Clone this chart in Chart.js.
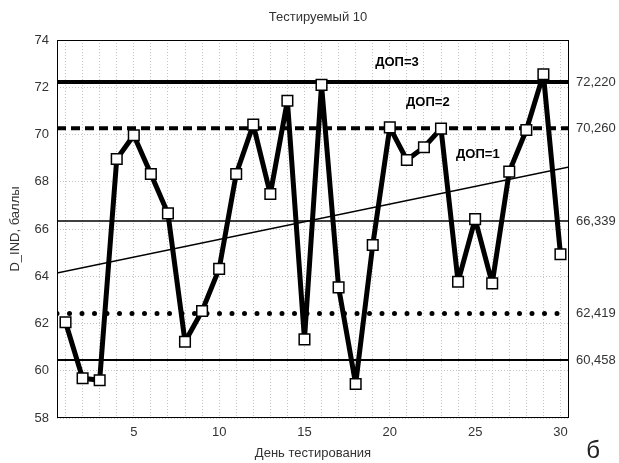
<!DOCTYPE html>
<html>
<head>
<meta charset="utf-8">
<script src="https://cdn.jsdelivr.net/npm/chart.js@4.4.1/dist/chart.umd.min.js"></script>
<style>
  html, body { margin: 0; padding: 0; background: #fff; }
  #wrap { width: 619px; height: 463px; position: relative; }
</style>
</head>
<body>
<div id="wrap"><canvas id="chart"></canvas></div>
<script>
// values
const days = [1, 2, 3, 4, 5, 6, 7, 8, 9, 10, 11, 12, 13, 14, 15,
              16, 17, 18, 19, 20, 21, 22, 23, 24, 25, 26, 27, 28, 29, 30];
const scores = [62.05, 59.68, 59.6, 68.96, 69.97, 68.33, 66.66, 61.23, 62.53, 64.31,
                68.33, 70.42, 67.48, 71.43, 61.33, 72.1, 63.53, 59.44, 65.32, 70.3,
                68.92, 69.46, 70.25, 63.77, 66.42, 63.7, 68.43, 70.19, 72.55, 64.93];

const levelValues = [72.22, 70.26, 66.339, 62.419, 60.458];
const levelLabels = ['72,220', '70,260', '66,339', '62,419', '60,458'];

const trendX = [0.5, 30.5];
const trendY = [64.14, 68.63];

const zoneNames = ['ДОП=3', 'ДОП=2', 'ДОП=1'];
const zoneX = [20.42, 22.23, 25.16];
const zoneY = [73.04, 71.35, 69.17];

const xMin = 0.5, xMax = 30.5, yMin = 58, yMax = 74;

const FONT = '"Liberation Sans", Arial, sans-serif';

function hLine(value, width, dash, cap) {
    return {
        data: [{ x: xMin, y: value }, { x: xMax, y: value }],
        borderColor: '#000',
        borderWidth: width,
        borderDash: dash,
        borderCapStyle: cap || 'butt',
        pointRadius: 0,
        fill: false
    };
}

const extraText = {
    id: 'extraText',
    afterDraw(chart) {
        const ctx = chart.ctx;
        const a = chart.chartArea;
        const sx = chart.scales.x, sy = chart.scales.y;
        ctx.save();
        // frame
        ctx.strokeStyle = '#000';
        ctx.lineWidth = 1;
        ctx.strokeRect(a.left + 0.5, a.top + 0.5, a.right - a.left - 1, a.bottom - a.top - 1);

        ctx.fillStyle = '#333';
        ctx.textAlign = 'center';
        ctx.textBaseline = 'middle';
        ctx.font = '13px ' + FONT;
        ctx.fillText('Тестируемый 10', 318, 17);
        ctx.fillText('День тестирования', 313, 453);

        ctx.save();
        ctx.translate(15, (a.top + a.bottom) / 2);
        ctx.rotate(-Math.PI / 2);
        ctx.fillText('D_IND, баллы', 0, 0);
        ctx.restore();

        ctx.fillStyle = '#000';
        ctx.font = 'bold 13px ' + FONT;
        zoneNames.forEach((t, i) => {
            ctx.fillText(t, sx.getPixelForValue(zoneX[i]), sy.getPixelForValue(zoneY[i]));
        });

        ctx.fillStyle = '#222';
        ctx.font = '24px ' + FONT;
        ctx.fillText('б', 593, 451);
        ctx.restore();
    }
};

new Chart(document.getElementById('chart'), {
    type: 'line',
    data: {
        datasets: [
            {
                data: days.map((d, i) => ({ x: d, y: scores[i] })),
                borderColor: '#000',
                borderWidth: 5,
                borderJoinStyle: 'bevel',
                pointStyle: 'rect',
                pointRadius: 7.5,
                pointBackgroundColor: '#fff',
                pointBorderColor: '#000',
                pointBorderWidth: 1.5,
                fill: false,
                tension: 0
            },
            {
                data: trendX.map((x, i) => ({ x: x, y: trendY[i] })),
                borderColor: '#000',
                borderWidth: 1.5,
                pointRadius: 0,
                fill: false
            },
            hLine(levelValues[0], 4, []),
            hLine(levelValues[1], 4, [9, 5]),
            hLine(levelValues[2], 1.5, []),
            hLine(levelValues[3], 5, [0, 12.5], 'round'),
            hLine(levelValues[4], 2, [])
        ]
    },
    options: {
        responsive: true,
        maintainAspectRatio: false,
        animation: false,
        layout: { padding: { top: 40, left: 0, right: 0, bottom: 0 } },
        plugins: {
            legend: { display: false },
            tooltip: { enabled: false }
        },
        scales: {
            x: {
                type: 'linear',
                min: xMin,
                max: xMax,
                afterBuildTicks: s => { s.ticks = days.map(d => ({ value: d })); },
                afterFit: s => { s.height = 45; },
                ticks: {
                    autoSkip: false,
                    maxRotation: 0,
                    padding: 7,
                    color: '#333',
                    font: { family: FONT, size: 13 },
                    callback: v => (v % 5 === 0 ? String(v) : '')
                },
                grid: { color: '#c4c4c4', lineWidth: 1, drawTicks: false },
                border: { display: false, dash: [1, 2] }
            },
            y: {
                type: 'linear',
                min: yMin,
                max: yMax,
                afterFit: s => { s.width = 57; },
                ticks: {
                    stepSize: 2,
                    padding: 8,
                    color: '#333',
                    font: { family: FONT, size: 13 }
                },
                grid: { color: '#c4c4c4', lineWidth: 1, drawTicks: false },
                border: { display: false, dash: [1, 2] }
            },
            y2: {
                type: 'linear',
                position: 'right',
                min: yMin,
                max: yMax,
                afterBuildTicks: s => { s.ticks = levelValues.map(v => ({ value: v })); },
                afterFit: s => { s.width = 50; },
                ticks: {
                    padding: 7,
                    color: '#333',
                    font: { family: FONT, size: 13 },
                    callback: v => {
                        const i = levelValues.indexOf(v);
                        return i >= 0 ? levelLabels[i] : '';
                    }
                },
                grid: { drawOnChartArea: false, drawTicks: false },
                border: { display: false }
            }
        }
    },
    plugins: [extraText]
});
</script>
</body>
</html>
